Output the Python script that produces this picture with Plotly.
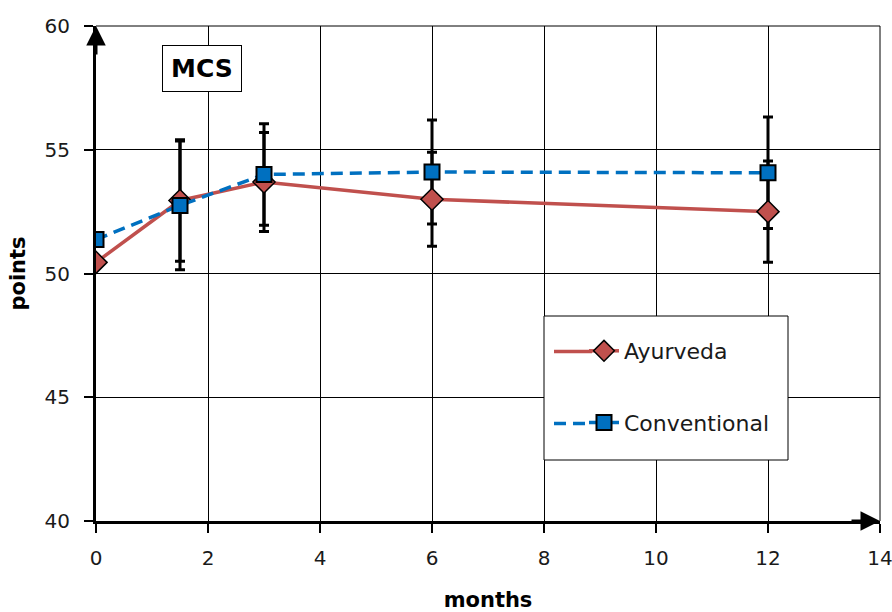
import plotly.graph_objects as go

months = [0, 1.5, 3, 6, 12]
ayurveda = [50.45, 52.95, 53.7, 53.0, 52.5]
ayurveda_err = [0, 2.45, 2.0, 1.9, 2.05]
conventional = [51.37, 52.75, 54.0, 54.1, 54.07]
conventional_err = [0, 2.6, 2.05, 2.1, 2.25]

x_ticks = [0, 2, 4, 6, 8, 10, 12, 14]
y_ticks = [40, 45, 50, 55, 60]

RED = "#C0504D"
BLUE = "#0070C0"
FONT = "DejaVu Sans"
TXT = "#1a1a1a"

fig = go.Figure()

# error bars (drawn underneath the lines/markers)
for vals, errs in [(ayurveda, ayurveda_err), (conventional, conventional_err)]:
    fig.add_trace(go.Scatter(
        x=months, y=vals, mode="markers",
        marker=dict(size=1, color="rgba(0,0,0,0)"),
        error_y=dict(type="data", array=errs, visible=True,
                     color="black", thickness=3, width=5),
        showlegend=False, hoverinfo="skip"))

fig.add_trace(go.Scatter(
    x=months, y=ayurveda, mode="lines+markers", name="Ayurveda",
    legendgroup="a",
    line=dict(color=RED, width=3.5),
    marker=dict(symbol="diamond", size=17, color=RED,
                line=dict(color="black", width=1.5))))

fig.add_trace(go.Scatter(
    x=months, y=conventional, mode="lines+markers", name="Conventional",
    legendgroup="c",
    line=dict(color=BLUE, width=3.5, dash="12px,7px"),
    marker=dict(symbol="square", size=15, color=BLUE,
                line=dict(color="black", width=2))))

W, H = 892, 612
L, R, T, B = 96, 12, 26, 91
pw, ph = W - L - R, H - T - B

def px2paper(x, y):
    return (x - L) / pw, (H - B - y) / ph

lx0, ly0 = px2paper(544, 460)
lx1, ly1 = px2paper(788, 316)
legx, legy = px2paper(584, 330)
ex0, ey_a = px2paper(554, 351.5)
ex1, ey_c = px2paper(592, 423.5)

fig.update_layout(
    width=W, height=H,
    margin=dict(l=L, r=R, t=T, b=B, pad=0, autoexpand=False),
    paper_bgcolor="white", plot_bgcolor="white",
    font=dict(family=FONT, color=TXT, size=20),
    xaxis=dict(range=[0, 14], tickvals=x_ticks, ticktext=[str(v) for v in x_ticks],
               tickfont=dict(size=20, family=FONT, color=TXT),
               ticklabeloverflow="allow", automargin=False,
               showgrid=True, gridcolor="black", gridwidth=1,
               showline=True, linecolor="black", linewidth=3,
               ticks="outside", ticklen=9, tickwidth=2, tickcolor="black",
               ticklabelstandoff=8, zeroline=False,
               title=dict(text="<b>months</b>", font=dict(size=21, color="black"),
                          standoff=24)),
    yaxis=dict(range=[40, 60], tickvals=y_ticks, ticktext=[str(v) for v in y_ticks],
               tickfont=dict(size=20, family=FONT, color=TXT),
               ticklabeloverflow="allow", automargin=False,
               showgrid=True, gridcolor="black", gridwidth=1,
               showline=True, linecolor="black", linewidth=3,
               ticks="outside", ticklen=9, tickwidth=2, tickcolor="black",
               ticklabelstandoff=10, zeroline=False,
               title=dict(text="<b>points</b>", font=dict(size=21, color="black"),
                          standoff=14)),
    legend=dict(x=legx, y=legy, xanchor="left", yanchor="top",
                bgcolor="rgba(0,0,0,0)", borderwidth=0,
                font=dict(size=22, family=FONT, color=TXT),
                tracegroupgap=40, traceorder="grouped"),
    shapes=[
        dict(type="line", xref="paper", yref="paper", x0=0, x1=1, y0=1, y1=1,
             line=dict(color="black", width=1), layer="below"),
        dict(type="line", xref="paper", yref="paper", x0=1, x1=1, y0=0, y1=1,
             line=dict(color="black", width=1), layer="below"),
        dict(type="rect", xref="paper", yref="paper",
             x0=lx0, x1=lx1, y0=ly0, y1=ly1,
             fillcolor="white", line=dict(color="black", width=1),
             layer="above"),
        # longer legend key lines, as in the original
        dict(type="line", xref="paper", yref="paper", x0=ex0, x1=ex1, y0=ey_a, y1=ey_a,
             line=dict(color=RED, width=3.5), layer="above"),
        dict(type="line", xref="paper", yref="paper", x0=ex0, x1=ex1, y0=ey_c, y1=ey_c,
             line=dict(color=BLUE, width=3.5, dash="12px,7px"), layer="above"),
    ],
    annotations=[
        dict(x=1.9, y=58.28, xref="x", yref="y", text="<b>MCS</b>",
             showarrow=False, font=dict(size=25, color="black", family=FONT),
             bgcolor="white", bordercolor="black", borderwidth=1, borderpad=8),
        # axis arrowheads
        dict(x=0, y=60, xref="x", yref="y", ax=0, ay=30, axref="pixel", ayref="pixel",
             text="", showarrow=True, arrowhead=2, arrowsize=1.3, arrowwidth=3,
             arrowcolor="black"),
        dict(x=14, y=40, xref="x", yref="y", ax=-30, ay=0, axref="pixel", ayref="pixel",
             text="", showarrow=True, arrowhead=2, arrowsize=1.3, arrowwidth=3,
             arrowcolor="black"),
    ],
)

fig.write_html("out.html")
